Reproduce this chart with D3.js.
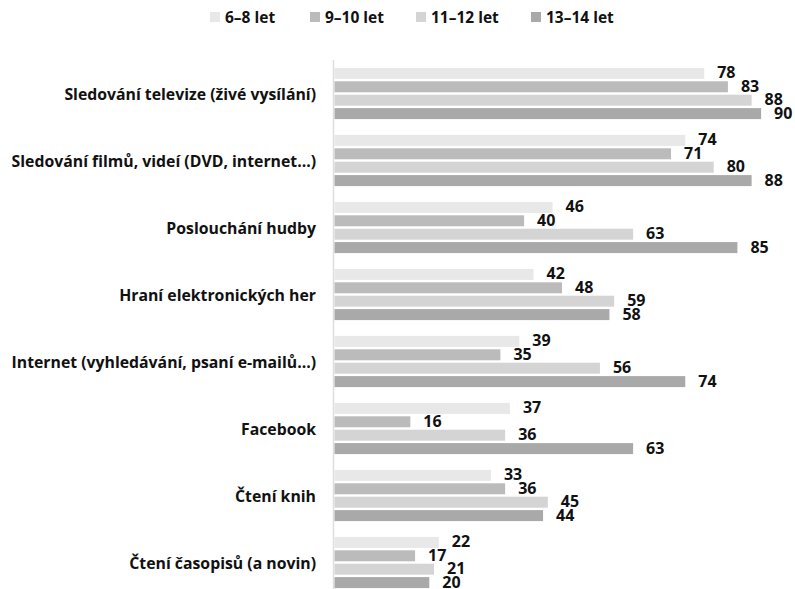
<!DOCTYPE html>
<html><head><meta charset="utf-8">
<script src="https://cdn.jsdelivr.net/npm/d3@7/dist/d3.min.js"></script>
<style>body{margin:0;background:#fff;} svg{display:block;}</style>
</head><body>
<svg id="chart" width="795" height="589"></svg>
<script>
const categories = ["Sledování televize (živé vysílání)","Sledování filmů, videí (DVD, internet…)","Poslouchání hudby","Hraní elektronických her","Internet (vyhledávání, psaní e-mailů…)","Facebook","Čtení knih","Čtení časopisů (a novin)"];
const seriesNames = ["6–8 let","9–10 let","11–12 let","13–14 let"];
const s68 = [78,74,46,42,39,37,33,22];
const s910 = [83,71,40,48,35,16,36,17];
const s1112 = [88,80,63,59,56,36,45,21];
const s1314 = [90,88,85,58,74,63,44,20];
const colors = ["#e8e8e8","#bbbbbb","#d4d4d4","#a9a9a9"];

const seriesValues = [s68,s910,s1112,s1314];
const svg = d3.select("#chart");
const font = "'Open Sans', sans-serif";

const x = d3.scaleLinear().domain([0,100]).range([334.5, 334.5+474]);
const y0 = d3.scaleBand().domain(categories).range([60,596]).paddingInner(0.236).paddingOuter(0.118);
const y1 = d3.scaleBand().domain(seriesNames).range([0,y0.bandwidth()]).paddingInner(0.18).paddingOuter(0);

// axis line
svg.append("line").attr("x1",333.5).attr("x2",333.5).attr("y1",60).attr("y2",596)
  .attr("stroke","#dedede").attr("stroke-width",1.5);

const g = svg.selectAll("g.cat").data(categories).join("g").attr("class","cat")
  .attr("transform",d=>`translate(0,${y0(d)})`);

g.each(function(cat,ci){
  const gg = d3.select(this);
  seriesNames.forEach((s,si)=>{
    const v = seriesValues[si][ci];
    gg.append("rect").attr("x",x(0)).attr("y",y1(s)).attr("width",x(v)-x(0)).attr("height",y1.bandwidth()).attr("fill",colors[si]);
    gg.append("text").attr("x",x(v)+13).attr("y",y1(s)+y1.bandwidth()-0.5)
      .attr("font-family",font).attr("font-weight",700).attr("font-size",16).attr("fill","#111").text(v);
  });
  gg.append("text").attr("x",316).attr("y",y0.bandwidth()/2+2).attr("text-anchor","end")
    .attr("dominant-baseline","middle")
    .attr("font-family",font).attr("font-weight",700).attr("font-size",15.8).attr("fill","#111").text(cat);
});

// legend
const legX = [210,310,416,531];
seriesNames.forEach((s,i)=>{
  svg.append("rect").attr("x",legX[i]).attr("y",12).attr("width",10).attr("height",10).attr("fill",colors[i]);
  svg.append("text").attr("x",legX[i]+15).attr("y",23).attr("font-family",font).attr("font-weight",700)
    .attr("font-size",15.5).attr("fill","#111").text(s);
});
</script>
</body></html>
